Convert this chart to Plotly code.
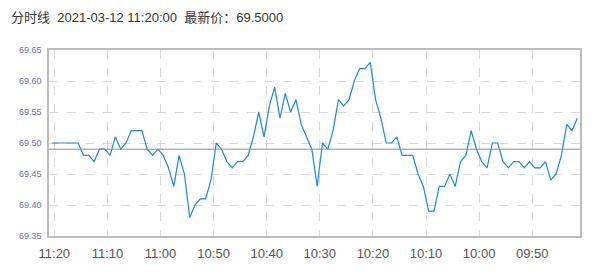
import plotly.graph_objects as go

# minutes since midnight; x axis runs from latest (left) to earliest (right)
prices = [
    69.50, 69.50, 69.50, 69.50, 69.50, 69.50, 69.48, 69.48, 69.47, 69.49,
    69.49, 69.48, 69.51, 69.49, 69.50, 69.52, 69.52, 69.52, 69.49, 69.48,
    69.49, 69.48, 69.46, 69.43, 69.48, 69.45, 69.38, 69.40, 69.41, 69.41,
    69.44, 69.50, 69.49, 69.47, 69.46, 69.47, 69.47, 69.48, 69.51, 69.55,
    69.51, 69.56, 69.59, 69.54, 69.58, 69.55, 69.57, 69.53, 69.51, 69.49,
    69.43, 69.50, 69.49, 69.52, 69.57, 69.56, 69.57, 69.60, 69.62, 69.62,
    69.63, 69.57, 69.54, 69.50, 69.50, 69.51, 69.48, 69.48, 69.48, 69.45,
    69.43, 69.39, 69.39, 69.43, 69.43, 69.45, 69.43, 69.47, 69.48, 69.52,
    69.49, 69.47, 69.46, 69.50, 69.50, 69.47, 69.46, 69.47, 69.47, 69.46,
    69.47, 69.46, 69.46, 69.47, 69.44, 69.45, 69.48, 69.53, 69.52, 69.54,
]
start_minute = 680.5  # 11:20:30, newest point first
times = [start_minute - i for i in range(len(prices))]
pre_close = 69.49

tick_vals = [680, 670, 660, 650, 640, 630, 620, 610, 600, 590]
tick_text = ["11:20", "11:10", "11:00", "10:50", "10:40", "10:30", "10:20", "10:10", "10:00", "09:50"]
y_ticks = [69.35, 69.40, 69.45, 69.50, 69.55, 69.60, 69.65]

title_text = "分时线&nbsp;&nbsp;2021-03-12 11:20:00&nbsp;&nbsp;最新价：69.5000"

fig = go.Figure()
fig.add_trace(go.Scatter(
    x=times, y=prices, mode="lines",
    line=dict(color="#2188d4", width=1.2),
    hoverinfo="skip", showlegend=False,
))
fig.add_shape(type="line", xref="paper", x0=0, x1=1, yref="y", y0=pre_close, y1=pre_close,
              line=dict(color="#8c8c8c", width=1))

fig.update_layout(
    width=599, height=278,
    margin=dict(l=49, r=19, t=49.5, b=42),
    paper_bgcolor="white", plot_bgcolor="white",
    font=dict(family="Liberation Sans, Arial, Noto Sans CJK SC", color="#333"),
    title=dict(
        text=title_text, xref="container", yref="container",
        x=11 / 599, xanchor="left", y=1 - 17 / 278, yanchor="middle",
        font=dict(size=13, color="#333", family="Liberation Sans, Noto Sans CJK SC"),
    ),
    xaxis=dict(
        range=[681, 581], tickmode="array", tickvals=tick_vals, ticktext=tick_text,
        showgrid=True, gridcolor="#d9d9d9", griddash="dash", gridwidth=1,
        showline=True, linecolor="#bdbdbd", linewidth=1.5, mirror=True,
        ticks="", ticklabelstandoff=5, tickfont=dict(size=13, color="#555"), zeroline=False,
    ),
    yaxis=dict(
        range=[69.35, 69.65], tickmode="array", tickvals=y_ticks,
        ticktext=[f"{v:.2f}" for v in y_ticks],
        showgrid=True, gridcolor="#d9d9d9", griddash="dash", gridwidth=1,
        showline=True, linecolor="#bdbdbd", linewidth=1.5, mirror=True,
        ticks="", ticklabelstandoff=4, tickfont=dict(size=9, color="#6f6fa0"), zeroline=False,
    ),
)

fig.write_html("out.html")
